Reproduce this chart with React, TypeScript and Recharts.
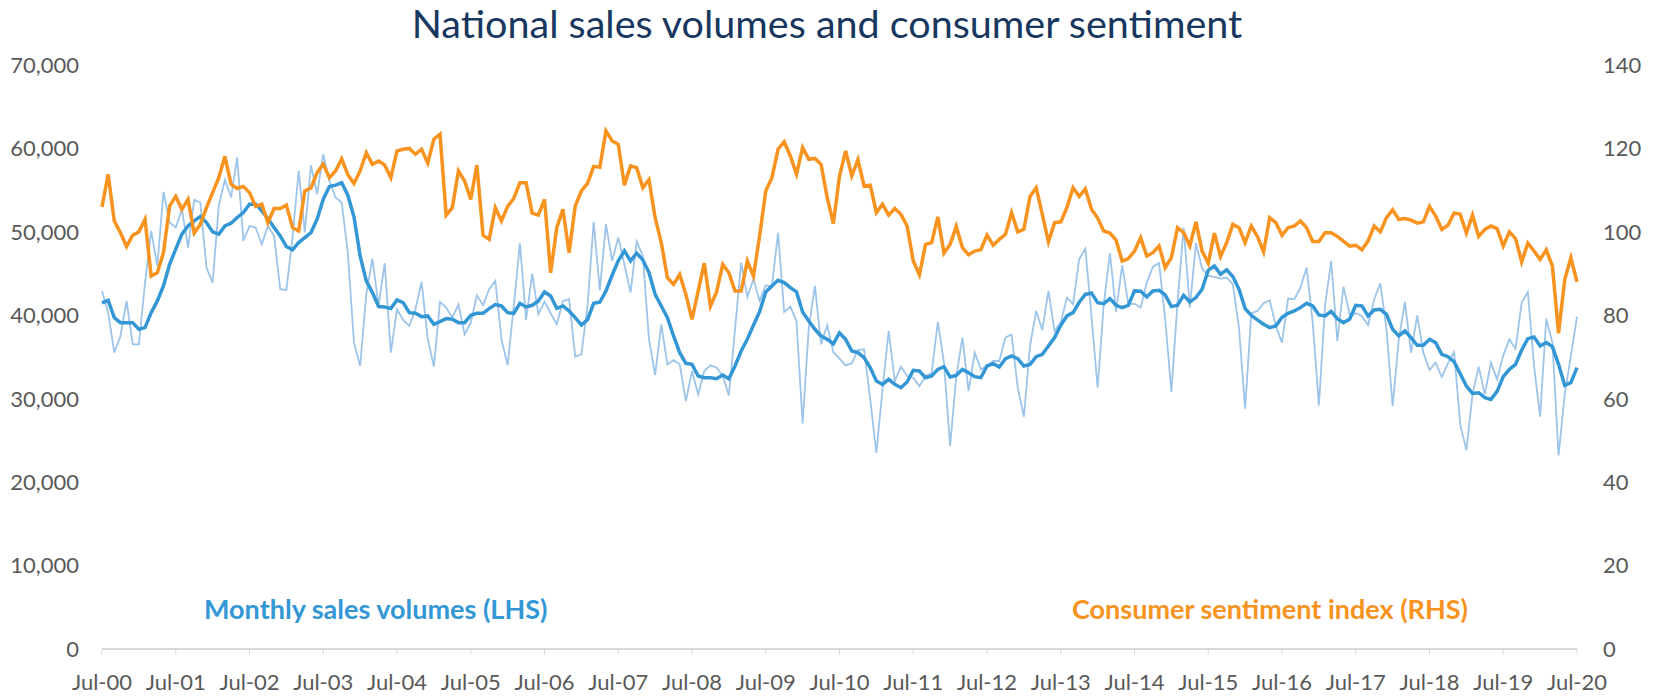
import { LineChart, Line, XAxis, YAxis } from "recharts";

// monthly, Jul-00 to Jul-20 (one row per Jul..Jun year)
const SALES = [
  42920, 40320, 35520, 37520, 41720, 36520, 36520, 43920, 50120, 45920, 54800, 51120,
  50520, 52720, 48120, 53840, 53520, 45720, 43920, 53120, 56240, 54120, 58920, 48920,
  50720, 50520, 48520, 50720, 49520, 43120, 43040, 49320, 57320, 49920, 58000, 54520,
  59320, 56120, 54120, 53520, 47500, 36720, 33920, 42520, 46800, 41120, 46240, 35520,
  40720, 39440, 38720, 40720, 44000, 37200, 33840, 41600, 40920, 39720, 41320, 37720,
  39120, 42400, 41200, 43120, 44120, 37120, 34000, 41120, 48640, 39440, 45000, 40120,
  41640, 40240, 38920, 41720, 41920, 35040, 35320, 41120, 51200, 43000, 50920, 46520,
  49320, 46120, 42720, 48840, 47120, 37120, 32840, 38920, 34120, 34640, 34120, 29720,
  33320, 30520, 33320, 34000, 33720, 32720, 30400, 38320, 46320, 42200, 44320, 41720,
  43600, 43440, 49920, 40400, 41040, 39320, 27040, 38520, 43520, 36520, 38800, 35600,
  34800, 34000, 34240, 35840, 35920, 29920, 23520, 31120, 38120, 32120, 33840, 32720,
  32520, 31520, 32720, 33120, 39200, 34320, 24320, 32720, 37320, 30920, 35520, 33520,
  33920, 34520, 34520, 37320, 37720, 31320, 27840, 36320, 40520, 38240, 42920, 38120,
  39120, 42120, 41320, 46720, 48000, 39920, 31320, 41320, 47440, 40400, 46000, 41320,
  41400, 40920, 43920, 45840, 46240, 39520, 30800, 41520, 50520, 40920, 48640, 45600,
  44720, 44600, 44400, 44520, 43720, 38520, 28800, 40240, 40520, 41440, 41800, 38720,
  36720, 42000, 41920, 43320, 45720, 39120, 29200, 41120, 46520, 36920, 43440, 40120,
  40240, 39920, 38800, 41920, 43840, 38320, 29120, 37120, 41600, 35520, 40000, 35520,
  33440, 34320, 32600, 34240, 35600, 26920, 23840, 30520, 33840, 30520, 34320, 32320,
  35200, 37120, 36000, 41520, 42800, 34000, 27840, 39600, 36720, 23200, 30520, 35120,
  39840,
];

const SALES_TREND = [
  41500, 41800, 39720, 39120, 39120, 39120, 38320, 38520, 40320, 41720, 43520, 46120,
  47920, 49720, 50720, 51320, 51840, 51120, 50000, 49720, 50720, 51040, 51720, 52320,
  53320, 53320, 52520, 51600, 50520, 49520, 48240, 47840, 48720, 49320, 49920, 51520,
  53920, 55440, 55600, 55880, 54400, 51800, 47120, 44120, 42720, 41040, 41000, 40800,
  41840, 41520, 40320, 40240, 39840, 39920, 38920, 39240, 39600, 39520, 39120, 39120,
  40000, 40240, 40240, 40800, 41280, 41120, 40320, 40240, 41440, 41000, 41200, 41720,
  42800, 42320, 40840, 41120, 40520, 39720, 38840, 39480, 41440, 41560, 42920, 44800,
  46520, 47720, 46520, 47440, 46640, 45120, 42520, 41120, 39720, 37520, 35520, 34240,
  34120, 32720, 32520, 32520, 32400, 32840, 32400, 33920, 35720, 37120, 38800, 40440,
  42800, 43520, 44200, 43920, 43320, 42800, 40400, 39320, 38320, 37520, 37120, 36580,
  37880, 37120, 35720, 35520, 34920, 33720, 32120, 31720, 32320, 31720, 31320, 32000,
  33400, 33320, 32520, 32720, 33520, 33840, 32600, 32800, 33520, 33120, 32640, 32520,
  33920, 34200, 33800, 34800, 35120, 34800, 33920, 34120, 35040, 35320, 36320, 37320,
  38800, 39920, 40320, 41560, 42500, 42680, 41520, 41400, 42000, 41200, 40920, 41200,
  42920, 42880, 42200, 42920, 43000, 42440, 41040, 41200, 42400, 41600, 42120, 43120,
  45400, 45920, 44920, 45440, 44640, 43120, 40800, 40000, 39440, 38920, 38520, 38720,
  39760, 40240, 40520, 40920, 41440, 41120, 40040, 39920, 40460, 39600, 39120, 39520,
  41200, 41120, 39920, 40640, 40720, 40120, 38320, 37520, 38120, 37320, 36400, 36400,
  37120, 36720, 35320, 35040, 34440, 33000, 31520, 30640, 30720, 30120, 29920, 30880,
  32640, 33520, 34120, 35840, 37200, 37400, 36320, 36720, 36240, 34120, 31600, 31920,
  33720,
];

const SENTIMENT = [
  106, 113.8, 102.6, 99.8, 96.5, 99.2, 100.0, 103.0, 89.4, 90.2, 95.0, 106.2,
  108.5, 105.4, 107.8, 99.7, 101.8, 105.8, 109.4, 113.0, 118.1, 111.4, 110.4, 110.9,
  109.4, 106.1, 106.6, 102.2, 105.6, 105.6, 106.4, 101.0, 100.2, 109.8, 110.5, 114.2,
  116.2, 113.0, 114.6, 117.5, 113.7, 111.6, 114.6, 119.0, 116.2, 117.0, 116.0, 113.0,
  119.4, 119.8, 120.0, 118.6, 119.8, 116.5, 122.2, 123.4, 104.0, 105.8, 114.6, 112.2,
  107.8, 116.0, 99.2, 98.2, 105.8, 102.6, 106.1, 108.0, 111.8, 111.8, 104.5, 104.0,
  107.8, 90.2, 101.0, 105.4, 95.0, 106.2, 109.8, 111.6, 115.7, 115.5, 124.2, 121.8,
  121.0, 111.2, 115.8, 115.4, 110.6, 112.5, 103.4, 97.4, 89.0, 87.4, 89.8, 85.0,
  79.0, 85.8, 92.5, 82.2, 85.6, 92.2, 90.2, 85.8, 85.8, 93.0, 89.4, 99.0,
  109.8, 113.0, 119.8, 121.6, 118.2, 113.8, 120.2, 117.4, 117.6, 116.2, 108.2, 102.0,
  113.4, 119.4, 113.4, 117.3, 111.0, 111.2, 104.6, 106.6, 104.0, 105.6, 104.2, 101.4,
  93.0, 89.7, 97.0, 97.4, 103.6, 94.9, 97.0, 101.3, 96.2, 94.5, 95.4, 95.7,
  99.2, 96.8, 98.2, 99.4, 104.6, 100.0, 100.6, 108.5, 110.6, 104.2, 97.6, 102.2,
  102.4, 105.8, 110.6, 108.5, 110.3, 105.4, 103.3, 100.2, 99.7, 98.0, 93.0, 93.6,
  95.4, 98.6, 94.2, 95.0, 96.6, 91.4, 93.8, 101.0, 99.8, 96.6, 102.4, 95.4,
  92.5, 99.7, 94.1, 97.4, 101.8, 101.0, 97.4, 101.4, 98.9, 95.2, 103.4, 102.2,
  99.2, 101.0, 101.4, 102.6, 101.0, 97.7, 97.7, 99.8, 99.8, 98.9, 97.8, 96.6,
  96.8, 95.7, 97.8, 101.4, 100.0, 103.4, 105.3, 103.0, 103.2, 102.8, 102.1, 102.4,
  106.1, 103.8, 100.6, 101.6, 104.5, 104.2, 99.7, 104.0, 98.9, 100.6, 101.4, 100.8,
  96.6, 100.0, 98.4, 92.8, 97.3, 95.4, 93.4, 95.7, 91.8, 75.7, 88.5, 93.8,
  88.0,
];

const MONTH_NAMES = ["Jul", "Aug", "Sep", "Oct", "Nov", "Dec", "Jan", "Feb", "Mar", "Apr", "May", "Jun"];

const X_TICKS = [
  "Jul-00", "Jul-01", "Jul-02", "Jul-03", "Jul-04", "Jul-05", "Jul-06",
  "Jul-07", "Jul-08", "Jul-09", "Jul-10", "Jul-11", "Jul-12", "Jul-13",
  "Jul-14", "Jul-15", "Jul-16", "Jul-17", "Jul-18", "Jul-19", "Jul-20",
];
const LEFT_TICKS = [0, 10000, 20000, 30000, 40000, 50000, 60000, 70000];
const RIGHT_TICKS = [0, 20, 40, 60, 80, 100, 120, 140];

// month label for each row, e.g. "Jul-00", "Jan-01"
const monthLabel = (i: number) => {
  const yy = Math.floor((i + 6) / 12);
  return `${MONTH_NAMES[i % 12]}-${String(yy).padStart(2, "0")}`;
};

const data = SALES.map((v, i) => ({
  month: monthLabel(i),
  sales: v,
  trend: SALES_TREND[i],
  sentiment: SENTIMENT[i],
}));

const FONT = "Lato, 'Open Sans', sans-serif";
const tickStyle = { fill: "#595959", fontSize: 22, fontFamily: FONT };

export default function App() {
  return (
    <div
      style={{
        position: "absolute",
        left: 0,
        top: 0,
        width: 1654,
        height: 696,
        background: "#fff",
        fontFamily: FONT,
      }}
    >
      <LineChart
        width={1654}
        height={696}
        data={data}
        margin={{ top: 65, right: 0, left: 0, bottom: 0 }}
      >
        <XAxis
          dataKey="month"
          ticks={X_TICKS}
          interval={0}
          height={47}
          axisLine={{ stroke: "#d9d9d9", strokeWidth: 2 }}
          tickLine={{ stroke: "#d9d9d9" }}
          tickSize={6}
          tickMargin={19}
          tick={tickStyle}
        />
        <YAxis
          yAxisId="left"
          domain={[0, 70000]}
          ticks={LEFT_TICKS}
          width={102}
          axisLine={false}
          tickLine={false}
          tickSize={0}
          tickMargin={23}
          tick={tickStyle}
          tickFormatter={(v: number) => v.toLocaleString("en-US")}
        />
        <YAxis
          yAxisId="right"
          orientation="right"
          domain={[0, 140]}
          ticks={RIGHT_TICKS}
          width={77}
          axisLine={false}
          tickLine={false}
          tickSize={0}
          tickMargin={26}
          tick={tickStyle}
        />
        <Line
          yAxisId="left"
          dataKey="sales"
          stroke="#9dc5ea"
          strokeWidth={1.8}
          dot={false}
          isAnimationActive={false}
        />
        <Line
          yAxisId="left"
          dataKey="trend"
          stroke="#3497d5"
          strokeWidth={3.5}
          dot={false}
          isAnimationActive={false}
        />
        <Line
          yAxisId="right"
          dataKey="sentiment"
          stroke="#f7931e"
          strokeWidth={3.5}
          dot={false}
          isAnimationActive={false}
        />
      </LineChart>

      <div
        style={{
          position: "absolute",
          left: 0,
          top: 0,
          width: 1654,
          textAlign: "center",
          fontSize: 39.5,
          lineHeight: "46px",
          color: "#17375e",
        }}
      >
        National sales volumes and consumer sentiment
      </div>
      <div
        style={{
          position: "absolute",
          left: 204,
          top: 592,
          fontSize: 27,
          lineHeight: "34px",
          fontWeight: 700,
          color: "#3497d5",
        }}
      >
        Monthly sales volumes (LHS)
      </div>
      <div
        style={{
          position: "absolute",
          left: 1072,
          top: 592,
          fontSize: 27,
          lineHeight: "34px",
          fontWeight: 700,
          color: "#f7931e",
        }}
      >
        Consumer sentiment index (RHS)
      </div>
    </div>
  );
}
